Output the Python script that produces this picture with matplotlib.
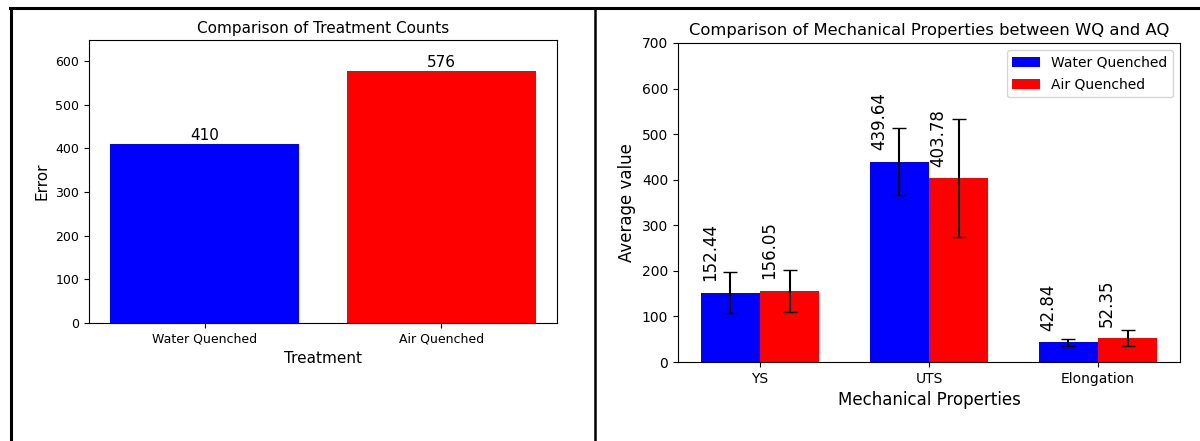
import matplotlib
matplotlib.use("Agg")
import matplotlib.pyplot as plt
from matplotlib.lines import Line2D
import numpy as np

treatments = ["Water Quenched", "Air Quenched"]
counts = [410, 576]

properties = ["YS", "UTS", "Elongation"]
wq_means = [152.44, 439.64, 42.84]
aq_means = [156.05, 403.78, 52.35]
wq_err = [45, 74, 8]
aq_err = [45.5, 129.5, 17.5]

plt.rcParams['font.family'] = ['DejaVu Sans']

fig = plt.figure(figsize=(12, 4.41), dpi=100)

# Left chart
ax1 = fig.add_axes([89/1200, 1-323/441, (557-89)/1200, (323-40)/441])
bars = ax1.bar(treatments, counts, color=["blue", "red"], width=0.8)
for b, v in zip(bars, counts):
    ax1.text(b.get_x() + b.get_width()/2, v + 3, str(v), ha='center', va='bottom', fontsize=11)
ax1.set_ylim(0, 648)
ax1.set_yticks(range(0, 601, 100))
ax1.tick_params(labelsize=9)
ax1.set_title("Comparison of Treatment Counts", fontsize=11, pad=5)
ax1.set_xlabel("Treatment", fontsize=11)
ax1.set_ylabel("Error", fontsize=11)

# Right chart
ax2 = fig.add_axes([678/1200, 1-362/441, (1180-678)/1200, (362-43)/441])
x = np.arange(len(properties))
w = 0.35
b1 = ax2.bar(x - w/2, wq_means, w, yerr=wq_err, capsize=5, color="blue", label="Water Quenched")
b2 = ax2.bar(x + w/2, aq_means, w, yerr=aq_err, capsize=5, color="red", label="Air Quenched")
for bs, vals in ((b1, wq_means), (b2, aq_means)):
    for b, v in zip(bs, vals):
        ax2.text(b.get_x(), v + 25, f"{v:.2f}", rotation=90, ha='left', va='bottom', fontsize=12)
ax2.set_ylim(0, 700)
ax2.set_xticks(x)
ax2.set_xticklabels(properties)
ax2.tick_params(labelsize=10)
ax2.set_title("Comparison of Mechanical Properties between WQ and AQ", fontsize=11.8)
ax2.set_xlabel("Mechanical Properties", fontsize=12)
ax2.set_ylabel("Average value", fontsize=12)
ax2.legend(loc="upper right", fontsize=10, labelspacing=0.6)

# frame lines
fig.add_artist(Line2D([11/1200, 11/1200], [0, 1-7.5/441], transform=fig.transFigure, color='black', lw=2.2))
fig.add_artist(Line2D([10/1200, 1], [1-7.5/441, 1-7.5/441], transform=fig.transFigure, color='black', lw=2.2))
fig.add_artist(Line2D([594.5/1200, 594.5/1200], [0, 1-7.5/441], transform=fig.transFigure, color='black', lw=1.8))

fig.savefig("out.png", dpi=100)
